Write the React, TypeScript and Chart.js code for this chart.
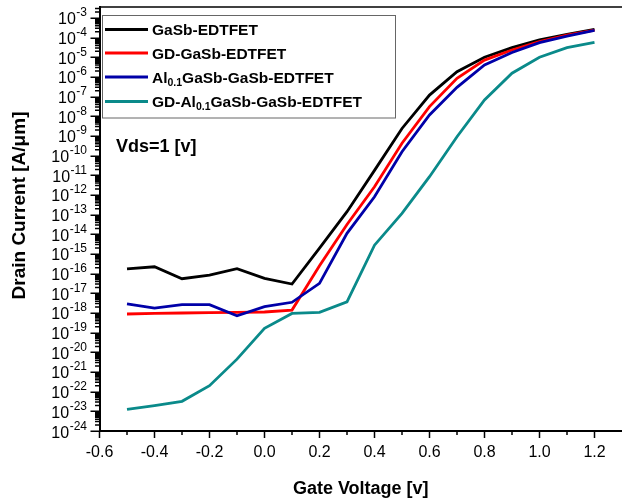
import { useEffect, useRef } from 'react';
import { Chart, registerables } from 'chart.js';

Chart.register(...registerables);

const FONT = '"Liberation Sans", Arial, Helvetica, sans-serif';

// Gate voltage [V]
const GATE_VOLTAGE = [-0.5, -0.4, -0.3, -0.2, -0.1, 0.0, 0.1, 0.2, 0.3, 0.4, 0.5, 0.6, 0.7, 0.8, 0.9, 1.0, 1.1, 1.2];

// Drain current [A/um]
const GASB_EDTFET = [1.74e-16, 2.24e-16, 5.5e-17, 8.5e-17, 1.78e-16, 5.75e-17, 2.95e-17, 2.0e-15, 1.41e-13, 1.78e-11, 2.4e-9, 1.2e-7, 1.86e-6, 1.0e-5, 3.1e-5, 7.6e-5, 1.48e-4, 2.63e-4];
const GD_GASB_EDTFET = [8.9e-19, 9.5e-19, 1.0e-18, 1.05e-18, 1.07e-18, 1.12e-18, 1.41e-18, 2.5e-16, 3.16e-14, 2.63e-12, 4.27e-10, 3.1e-8, 8.5e-7, 7.2e-6, 2.34e-5, 6.3e-5, 1.35e-4, 2.4e-4];
const AL_GASB_GASB_EDTFET = [2.9e-18, 1.78e-18, 2.63e-18, 2.63e-18, 7.2e-19, 2.1e-18, 3.5e-18, 3.2e-17, 1.12e-14, 8.1e-13, 1.58e-10, 1.17e-8, 2.95e-7, 4.1e-6, 1.74e-5, 5.6e-5, 1.2e-4, 2.34e-4];
const GD_AL_GASB_GASB_EDTFET = [1.26e-23, 1.95e-23, 3.24e-23, 2.0e-22, 4.5e-21, 1.66e-19, 9.5e-19, 1.07e-18, 3.7e-18, 2.8e-15, 1.17e-13, 8.5e-12, 9.1e-10, 6.8e-8, 1.55e-6, 1.0e-5, 3.1e-5, 5.75e-5];

// Legend labels ("_{...}" marks a subscript)
const SERIES_LABELS = [
  'GaSb-EDTFET',
  'GD-GaSb-EDTFET',
  'Al_{0.1}GaSb-GaSb-EDTFET',
  'GD-Al_{0.1}GaSb-GaSb-EDTFET',
];
const SERIES_COLORS = ['#000000', '#ff0000', '#0000a8', '#0a8a8a'];

// Axis ticks
const X_MAJOR_TICKS = [-0.6, -0.4, -0.2, 0.0, 0.2, 0.4, 0.6, 0.8, 1.0, 1.2];
const X_MINOR_TICKS = [-0.5, -0.3, -0.1, 0.1, 0.3, 0.5, 0.7, 0.9, 1.1];
const Y_DECADE_EXPONENTS = [-24, -23, -22, -21, -20, -19, -18, -17, -16, -15, -14, -13, -12, -11, -10, -9, -8, -7, -6, -5, -4, -3];

const X_MIN = -0.6;
const X_MAX = 1.3;
const Y_MIN = 1e-24;
const Y_MAX = 3.6e-3;

const ANNOTATION = 'Vds=1 [v]';
const X_TITLE = 'Gate Voltage [v]';
const Y_TITLE = 'Drain Current [A/\u03bcm]';

function parseLabel(label: string) {
  const parts: { text: string; sub: boolean }[] = [];
  const re = /_\{([^}]*)\}/g;
  let last = 0;
  let m: RegExpExecArray | null;
  while ((m = re.exec(label)) !== null) {
    if (m.index > last) parts.push({ text: label.slice(last, m.index), sub: false });
    parts.push({ text: m[1], sub: true });
    last = m.index + m[0].length;
  }
  if (last < label.length) parts.push({ text: label.slice(last), sub: false });
  return parts;
}

const decorPlugin = {
  id: 'decor',
  afterDraw(chart: any) {
    const { ctx, chartArea: ca, scales } = chart;
    const x = scales.x;
    const y = scales.y;
    ctx.save();

    // top frame line
    ctx.strokeStyle = '#000';
    ctx.lineWidth = 1.5;
    ctx.beginPath();
    ctx.moveTo(ca.left, ca.top);
    ctx.lineTo(ca.right, ca.top);
    ctx.stroke();

    // y ticks (outward)
    ctx.lineWidth = 1.5;
    ctx.beginPath();
    Y_DECADE_EXPONENTS.forEach((e) => {
      const p = Math.round(y.getPixelForValue(Math.pow(10, e))) + 0.25;
      ctx.moveTo(ca.left - 9, p);
      ctx.lineTo(ca.left, p);
      for (let k = 2; k <= 9; k++) {
        const v = k * Math.pow(10, e);
        if (v > y.max) break;
        const q = y.getPixelForValue(v);
        ctx.moveTo(ca.left - 4.5, q);
        ctx.lineTo(ca.left, q);
      }
    });
    ctx.stroke();

    // x ticks (outward)
    ctx.beginPath();
    X_MAJOR_TICKS.forEach((v) => {
      const p = x.getPixelForValue(v);
      ctx.moveTo(p, ca.bottom);
      ctx.lineTo(p, ca.bottom + 7);
    });
    X_MINOR_TICKS.forEach((v) => {
      const p = x.getPixelForValue(v);
      ctx.moveTo(p, ca.bottom);
      ctx.lineTo(p, ca.bottom + 4);
    });
    ctx.stroke();

    // y tick labels: 10^n
    ctx.fillStyle = '#000';
    ctx.textAlign = 'left';
    ctx.textBaseline = 'alphabetic';
    const rightEdge = 87;
    Y_DECADE_EXPONENTS.forEach((e) => {
      const p = y.getPixelForValue(Math.pow(10, e));
      const sup = String(e);
      ctx.font = `12px ${FONT}`;
      const wSup = ctx.measureText(sup).width;
      ctx.font = `16px ${FONT}`;
      const wBase = ctx.measureText('10').width;
      const bx = rightEdge - wSup - wBase - 0.5;
      ctx.fillText('10', bx, p + 6.5);
      ctx.font = `12px ${FONT}`;
      ctx.fillText(sup, rightEdge - wSup, p - 1.5);
    });

    // y axis title
    ctx.save();
    ctx.translate(24.5, 205.5);
    ctx.rotate(-Math.PI / 2);
    ctx.font = `bold 19px ${FONT}`;
    ctx.textAlign = 'center';
    ctx.textBaseline = 'alphabetic';
    ctx.fillText(Y_TITLE, 0, 0);
    ctx.restore();

    // annotation
    ctx.font = `bold 18px ${FONT}`;
    ctx.textAlign = 'left';
    ctx.textBaseline = 'middle';
    ctx.fillText(ANNOTATION, 116, 147.5);

    // legend
    const boxL = 102.5, boxT = 15.5, boxW = 293, boxH = 102.5;
    ctx.fillStyle = '#fff';
    ctx.fillRect(boxL, boxT, boxW, boxH);
    ctx.strokeStyle = '#666';
    ctx.lineWidth = 1;
    ctx.strokeRect(boxL, boxT, boxW, boxH);
    const rows = [29.5, 53, 77, 101.5];
    chart.data.datasets.forEach((ds: any, i: number) => {
      const ry = rows[i];
      ctx.strokeStyle = ds.borderColor;
      ctx.lineWidth = 3;
      ctx.beginPath();
      ctx.moveTo(105, ry);
      ctx.lineTo(148, ry);
      ctx.stroke();
      let tx = 152;
      ctx.fillStyle = '#000';
      ctx.textAlign = 'left';
      ctx.textBaseline = 'alphabetic';
      parseLabel(ds.label).forEach((part) => {
        if (part.sub) {
          ctx.font = `bold 10.5px ${FONT}`;
          ctx.fillText(part.text, tx, ry + 8.5);
        } else {
          ctx.font = `bold 15.5px ${FONT}`;
          ctx.fillText(part.text, tx, ry + 5.5);
        }
        tx += ctx.measureText(part.text).width;
      });
    });

    ctx.restore();
  },
};

export default function App() {
  const canvasRef = useRef<HTMLCanvasElement | null>(null);

  useEffect(() => {
    const canvas = canvasRef.current;
    if (!canvas) return;
    const seriesData = [GASB_EDTFET, GD_GASB_EDTFET, AL_GASB_GASB_EDTFET, GD_AL_GASB_GASB_EDTFET];
    const drawOrder = [2, 1, 0, 3];
    const chart = new Chart(canvas, {
      type: 'line',
      data: {
        datasets: seriesData.map((vals, i) => ({
          label: SERIES_LABELS[i],
          data: GATE_VOLTAGE.map((v, j) => ({ x: v, y: vals[j] })),
          borderColor: SERIES_COLORS[i],
          backgroundColor: SERIES_COLORS[i],
          borderWidth: 2.8,
          pointRadius: 0,
          tension: 0,
          fill: false,
          order: drawOrder[i],
        })),
      },
      options: {
        responsive: false,
        animation: false,
        devicePixelRatio: 1,
        layout: { padding: { top: 7, left: 0, right: 0, bottom: 0 } },
        plugins: {
          legend: { display: false },
          tooltip: { enabled: false },
        },
        scales: {
          x: {
            type: 'linear',
            position: 'bottom',
            min: X_MIN,
            max: X_MAX,
            grid: { display: false, drawTicks: false },
            border: { display: true, color: '#000', width: 2 },
            afterBuildTicks: (scale: any) => {
              scale.ticks = X_MAJOR_TICKS.map((v) => ({ value: v }));
            },
            afterFit: (scale: any) => {
              scale.height = 69;
            },
            ticks: {
              autoSkip: false,
              maxRotation: 0,
              padding: 12,
              color: '#000',
              font: { family: FONT, size: 16 },
              callback: (v: any) => Number(v).toFixed(1),
            },
            title: {
              display: true,
              text: X_TITLE,
              color: '#000',
              font: { family: FONT, size: 18, weight: 'bold' },
              padding: 0,
            },
          },
          y: {
            type: 'logarithmic',
            position: 'left',
            min: Y_MIN,
            max: Y_MAX,
            grid: { display: false, drawTicks: false },
            border: { display: true, color: '#000', width: 2 },
            afterBuildTicks: (scale: any) => {
              scale.ticks = Y_DECADE_EXPONENTS.map((e) => ({ value: Math.pow(10, e) }));
            },
            afterFit: (scale: any) => {
              scale.width = 99.5;
            },
            ticks: { display: false },
            title: { display: false },
          },
        },
      },
      plugins: [decorPlugin],
    });
    return () => chart.destroy();
  }, []);

  return (
    <canvas
      ref={canvasRef}
      width={622}
      height={500}
      style={{ position: 'fixed', left: 0, top: 0, display: 'block', background: '#fff' }}
    />
  );
}
